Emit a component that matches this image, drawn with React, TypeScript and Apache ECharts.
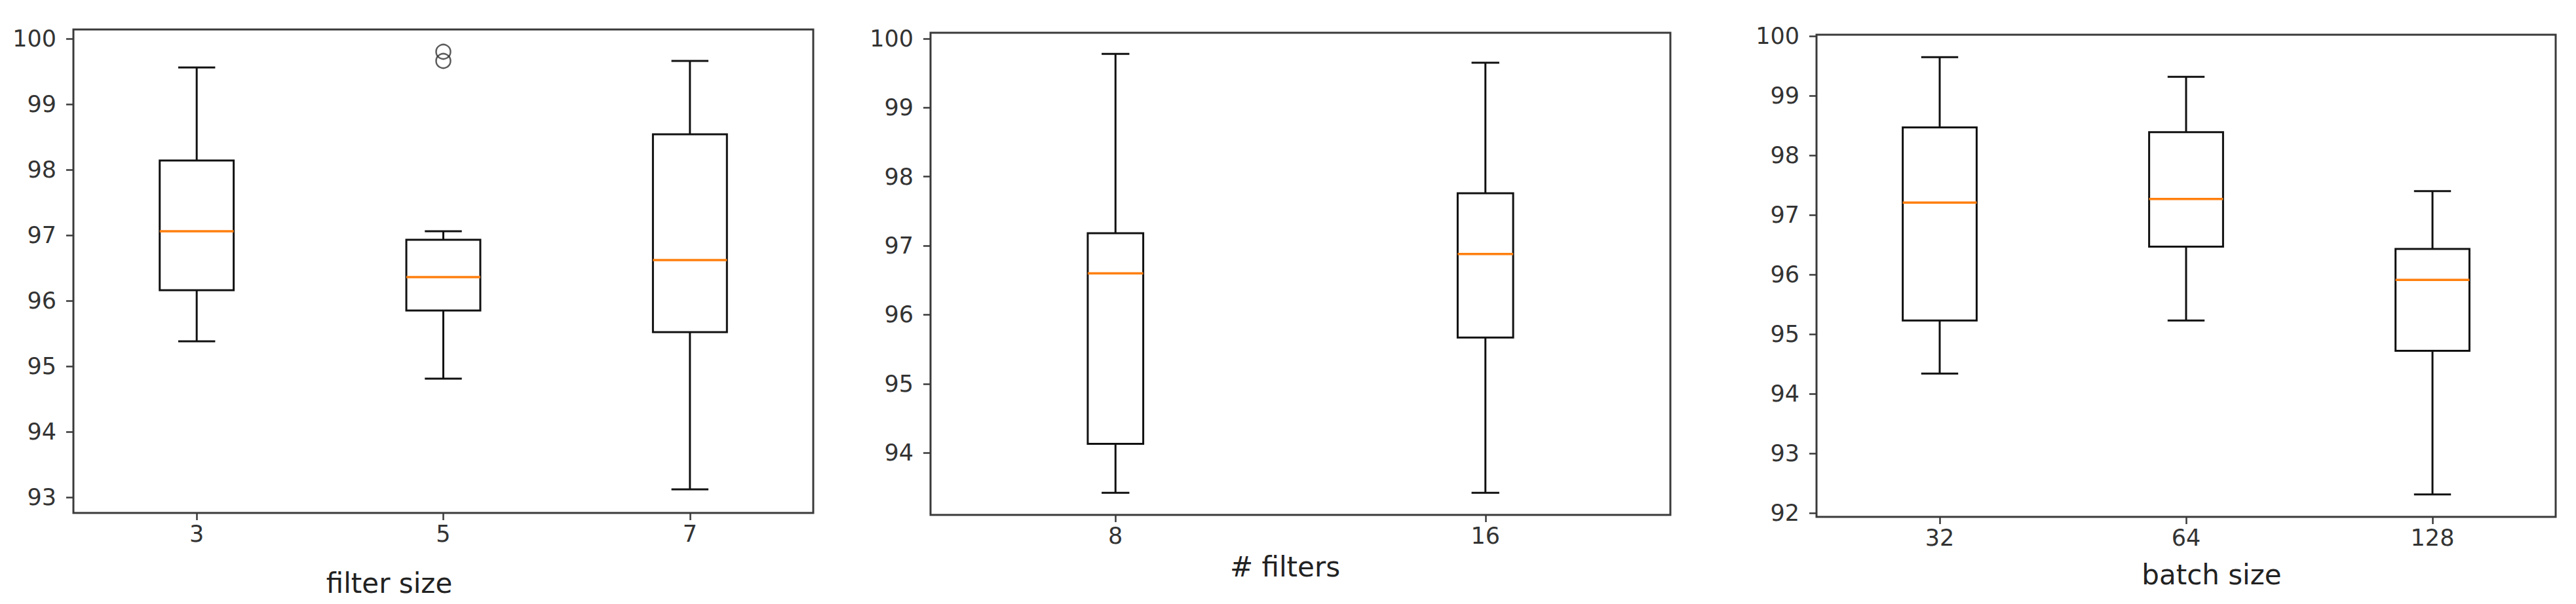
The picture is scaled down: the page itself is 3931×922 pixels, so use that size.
import React, { useEffect, useRef } from "react";
import * as echarts from "echarts";

// ---------- data ----------
const filterSizeCats = ["3", "5", "7"];
const filterSizeMin = [95.38, 94.81, 93.12];
const filterSizeQ1 = [96.16, 95.85, 95.52];
const filterSizeMed = [97.06, 96.36, 96.62];
const filterSizeQ3 = [98.14, 96.93, 98.54];
const filterSizeMax = [99.56, 97.06, 99.66];
const filterSizeOutliers = [
  ["5", 99.8],
  ["5", 99.66],
];

const filterCountCats = ["8", "16"];
const filterCountMin = [93.42, 93.42];
const filterCountQ1 = [94.13, 95.67];
const filterCountMed = [96.6, 96.88];
const filterCountQ3 = [97.18, 97.76];
const filterCountMax = [99.78, 99.65];

const batchSizeCats = ["32", "64", "128"];
const batchSizeMin = [94.34, 95.23, 92.31];
const batchSizeQ1 = [95.23, 96.47, 94.72];
const batchSizeMed = [97.21, 97.27, 95.91];
const batchSizeQ3 = [98.47, 98.39, 96.43];
const batchSizeMax = [99.65, 99.32, 97.4];

const ticks1 = [93, 94, 95, 96, 97, 98, 99, 100];
const ticks2 = [94, 95, 96, 97, 98, 99, 100];
const ticks3 = [92, 93, 94, 95, 96, 97, 98, 99, 100];

const xTitles = ["filter size", "# filters", "batch size"];

// ---------- helpers ----------
const FONT = "DejaVu Sans";
const INK = "#222";
const FRAME = "#3a3a3a";

function rows(mn: number[], q1: number[], md: number[], q3: number[], mx: number[]) {
  return mn.map((v, i) => [i, v, q1[i], md[i], q3[i], mx[i]]);
}

function makeRender(halfFrac: number) {
  return (params: any, api: any) => {
    const idx = api.value(0);
    const lo = api.coord([idx, api.value(1)]);
    const q1 = api.coord([idx, api.value(2)]);
    const md = api.coord([idx, api.value(3)]);
    const q3 = api.coord([idx, api.value(4)]);
    const hi = api.coord([idx, api.value(5)]);
    const band = api.size([1, 0])[0];
    const hw = band * halfFrac;
    const cw = hw / 2;
    const x = lo[0];
    const s = { stroke: "#111", lineWidth: 3, fill: null };
    return {
      type: "group",
      children: [
        { type: "line", shape: { x1: x, y1: q3[1], x2: x, y2: hi[1] }, style: s },
        { type: "line", shape: { x1: x, y1: q1[1], x2: x, y2: lo[1] }, style: s },
        { type: "line", shape: { x1: x - cw, y1: hi[1], x2: x + cw, y2: hi[1] }, style: s },
        { type: "line", shape: { x1: x - cw, y1: lo[1], x2: x + cw, y2: lo[1] }, style: s },
        {
          type: "rect",
          shape: { x: x - hw, y: q3[1], width: hw * 2, height: q1[1] - q3[1] },
          style: { stroke: "#111", lineWidth: 3, fill: "none" },
        },
        {
          type: "line",
          shape: { x1: x - hw, y1: md[1], x2: x + hw, y2: md[1] },
          style: { stroke: "#ff7f0e", lineWidth: 3.5 },
        },
      ],
    };
  };
}

function xAxisCfg(cats: string[], gi: number) {
  return {
    type: "category",
    gridIndex: gi,
    data: cats,
    boundaryGap: true,
    axisLine: { show: false },
    axisTick: { show: true, alignWithLabel: true, length: 11, lineStyle: { color: FRAME, width: 2.5 } },
    axisLabel: { color: "#333", fontSize: 35, fontFamily: FONT, margin: 14 },
    splitLine: { show: false },
  };
}

function yAxisCfg(min: number, max: number, ticks: number[], gi: number) {
  return {
    type: "value",
    gridIndex: gi,
    min,
    max,
    axisLine: { show: false },
    axisTick: { show: true, length: 11, customValues: ticks, lineStyle: { color: FRAME, width: 2.5 } },
    axisLabel: { color: "#333", fontSize: 35, fontFamily: FONT, margin: 26, customValues: ticks },
    splitLine: { show: false },
  };
}

export default function App() {
  const ref = useRef<HTMLDivElement>(null);
  useEffect(() => {
    if (!ref.current) return;
    const chart = echarts.init(ref.current, undefined, { renderer: "svg" });
    const gridBase = { show: true, borderColor: FRAME, borderWidth: 3, backgroundColor: "#fff", containLabel: false };
    chart.setOption({
      animation: false,
      backgroundColor: "#fff",
      grid: [
        { ...gridBase, left: 112, top: 45, width: 1129, height: 738 },
        { ...gridBase, left: 1420, top: 50, width: 1129, height: 736 },
        { ...gridBase, left: 2772, top: 53, width: 1128, height: 736 },
      ],
      xAxis: [xAxisCfg(filterSizeCats, 0), xAxisCfg(filterCountCats, 1), xAxisCfg(batchSizeCats, 2)],
      yAxis: [
        yAxisCfg(92.76, 100.14, ticks1, 0),
        yAxisCfg(93.1, 100.085, ticks2, 1),
        yAxisCfg(91.934, 100.026, ticks3, 2),
      ],
      series: [
        {
          type: "custom",
          xAxisIndex: 0,
          yAxisIndex: 0,
          renderItem: makeRender(0.15),
          encode: { x: 0, y: [1, 2, 3, 4, 5] },
          data: rows(filterSizeMin, filterSizeQ1, filterSizeMed, filterSizeQ3, filterSizeMax),
        },
        {
          type: "scatter",
          xAxisIndex: 0,
          yAxisIndex: 0,
          symbol: "circle",
          symbolSize: 22,
          itemStyle: { color: "rgba(0,0,0,0)", borderColor: "#333", borderWidth: 2.5 },
          data: filterSizeOutliers,
        },
        {
          type: "custom",
          xAxisIndex: 1,
          yAxisIndex: 1,
          renderItem: makeRender(0.075),
          encode: { x: 0, y: [1, 2, 3, 4, 5] },
          data: rows(filterCountMin, filterCountQ1, filterCountMed, filterCountQ3, filterCountMax),
        },
        {
          type: "custom",
          xAxisIndex: 2,
          yAxisIndex: 2,
          renderItem: makeRender(0.15),
          encode: { x: 0, y: [1, 2, 3, 4, 5] },
          data: rows(batchSizeMin, batchSizeQ1, batchSizeMed, batchSizeQ3, batchSizeMax),
        },
      ],
      graphic: [
        { type: "text", x: 594, y: 890, style: { text: xTitles[0], fill: INK, font: `42px '${FONT}'`, textAlign: "center", textVerticalAlign: "middle" } },
        { type: "text", x: 1961, y: 865, style: { text: xTitles[1], fill: INK, font: `42px '${FONT}'`, textAlign: "center", textVerticalAlign: "middle" } },
        { type: "text", x: 3375, y: 877, style: { text: xTitles[2], fill: INK, font: `42px '${FONT}'`, textAlign: "center", textVerticalAlign: "middle" } },
      ],
    });
    return () => chart.dispose();
  }, []);
  return (
    <div
      ref={ref}
      style={{ position: "absolute", left: 0, top: 0, width: 3931, height: 922, background: "#fff" }}
    />
  );
}
